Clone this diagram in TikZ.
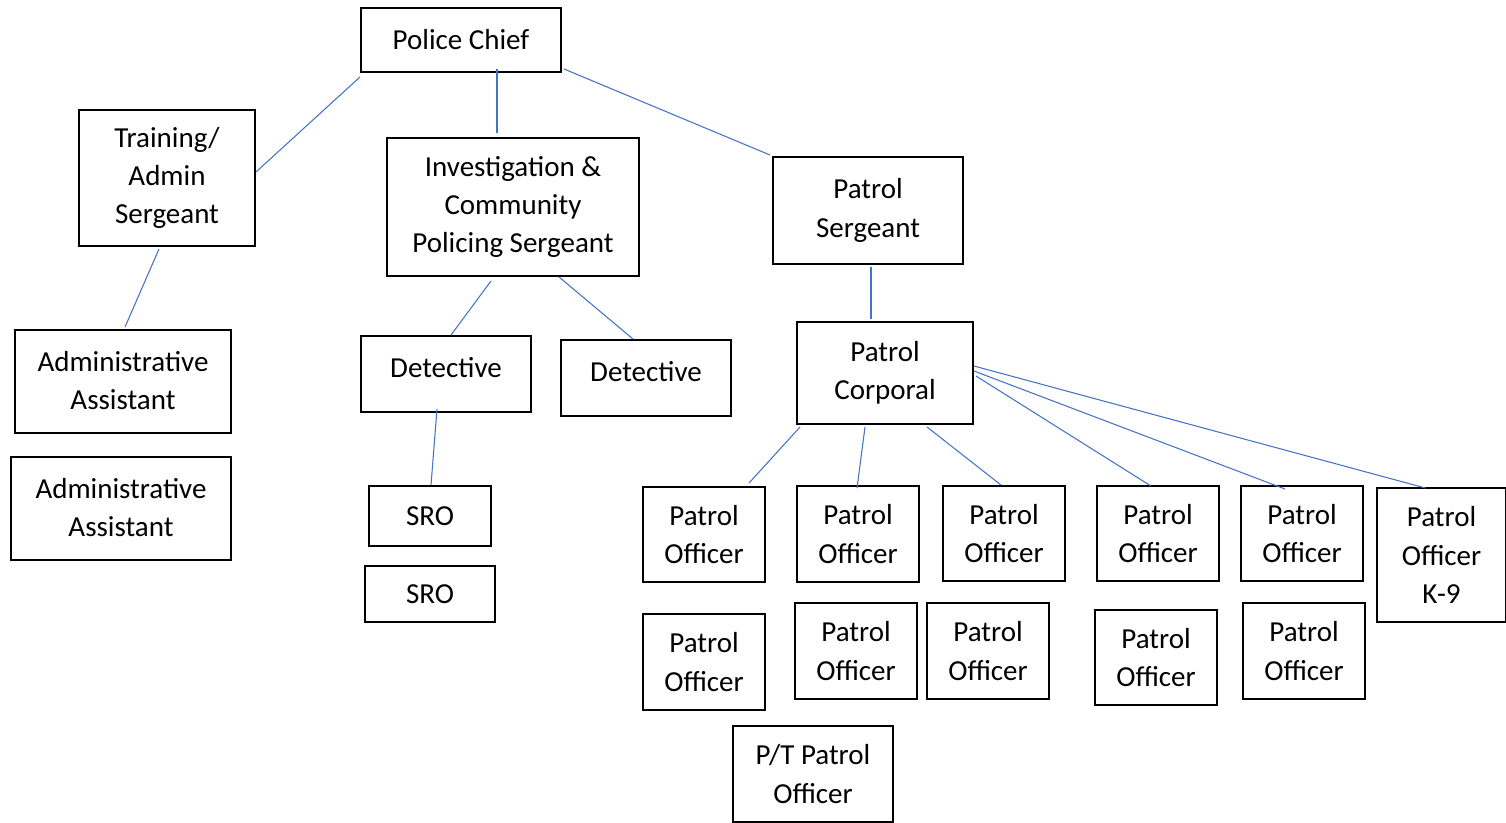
\documentclass[tikz,border=0pt]{standalone}
\usepackage{fontspec}
\setmainfont{Carlito}
\usetikzlibrary{calc}
\definecolor{linkblue}{HTML}{4472C4}
\newcommand\placebox[6]{%
  \node[orgbox, minimum width={(#4-#2)*0.02cm}, minimum height={(#5-#3)*0.02cm}]
    (#1) at ({(#2+#4)/2},{(#3+#5)/2}) {#6};}
\begin{document}
\begin{tikzpicture}[x=0.02cm,y=-0.02cm,
  orgbox/.style={draw=black, line width=1.1pt, inner sep=0pt, align=center,
    font=\fontsize{16.5}{21.8}\selectfont},
  link/.style={draw=linkblue, line width=0.6pt}]
\useasboundingbox (0,0) rectangle (1506,822);

\placebox{chief}{361}{8}{561}{72}{\raisebox{0.04cm}{Police Chief}}
\placebox{train}{79}{110}{255}{246}{Training/\\Admin\\Sergeant}
\placebox{invest}{387}{138}{639}{276}{Investigation \&\\Community\\Policing Sergeant}
\placebox{psgt}{773}{157}{963}{264}{Patrol\\Sergeant}
\placebox{aa1}{15}{330}{231}{433}{\raisebox{0.05cm}{Administrative}\\\raisebox{0.05cm}{Assistant}}
\placebox{aa2}{11}{457}{231}{560}{\raisebox{0.05cm}{Administrative}\\\raisebox{0.05cm}{Assistant}}
\placebox{det1}{361}{336}{531}{412}{\raisebox{0.26cm}{Detective}}
\placebox{det2}{561}{340}{731}{416}{\raisebox{0.26cm}{Detective}}
\placebox{sro1}{369}{486}{491}{546}{SRO}
\placebox{sro2}{365}{566}{495}{622}{SRO}
\placebox{corp}{797}{322}{973}{424}{Patrol\\Corporal}
\placebox{off1}{643}{487}{765}{582}{Patrol\\Officer}
\placebox{off2}{797}{486}{919}{582}{Patrol\\Officer}
\placebox{off3}{943}{486}{1065}{581}{Patrol\\Officer}
\placebox{off4}{1097}{486}{1219}{581}{Patrol\\Officer}
\placebox{off5}{1241}{486}{1363}{581}{Patrol\\Officer}
\placebox{k9}{1377}{488}{1506}{622}{Patrol\\Officer\\K-9}
\placebox{off6}{643}{614}{765}{710}{Patrol\\Officer}
\placebox{off7}{795}{603}{917}{699}{Patrol\\Officer}
\placebox{off8}{927}{603}{1049}{699}{Patrol\\Officer}
\placebox{off9}{1095}{610}{1217}{705}{Patrol\\Officer}
\placebox{off10}{1243}{603}{1365}{699}{Patrol\\Officer}
\placebox{pt}{733}{726}{893}{822}{P/T Patrol\\Officer}

\draw[link] ($(chief.south west)+(0,4)$) -- ($(train.east)+(0,-6)$);
\draw[link] ($(chief.south)+(36,-4)$) -- ($(invest.north)+(-16,-4)$);
\draw[link] ($(chief.south east)+(2,-4)$) -- ($(psgt.north west)+(-2,-1)$);
\draw[link] ($(train.south)+(-8,2)$) -- ($(aa1.north)+(2,-2)$);
\draw[link] ($(invest.south)+(-22,4)$) -- ($(det1.north)+(5,0)$);
\draw[link] ($(invest.south)+(46,0)$) -- ($(det2.north)+(-13,0)$);
\draw[link] ($(det1.south)+(-9,-4)$) -- ($(sro1.north)+(1,0)$);
\draw[link] ($(psgt.south)+(3,2)$) -- ($(corp.north)+(-14,-2)$);
\draw[link] ($(corp.south west)+(4,2)$) -- ($(off1.north)+(45,-3)$);
\draw[link] ($(corp.south)+(-20,2)$) -- ($(off2.north)+(-1,3)$);
\draw[link] ($(corp.south)+(42,2)$) -- ($(off3.north)+(-3,0)$);
\draw[link] ($(corp.east)+(2,3)$) -- ($(off4.north)+(-7,1)$);
\draw[link] ($(corp.east)+(0,-2)$) -- ($(off5.north)+(-17,4)$);
\draw[link] ($(corp.east)+(0,-7)$) -- ($(k9.north)+(-16,1)$);
\end{tikzpicture}
\end{document}
